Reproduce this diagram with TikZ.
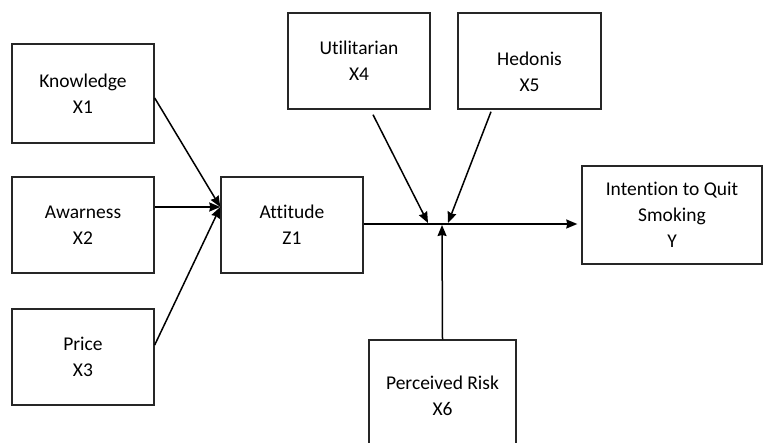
\documentclass[tikz,border=0pt]{standalone}
\usepackage{fontspec}
\setmainfont[Ligatures={NoCommon}]{Carlito}
\usetikzlibrary{arrows.meta,calc}
\begin{document}
\begin{tikzpicture}[x=1pt,y=-1pt,
  box/.style={draw=black!85,line width=1.4pt,rectangle,inner sep=0pt,align=center,
    font=\fontsize{19.5}{26}\selectfont},
  txt/.style={align=center,inner sep=0pt,font=\fontsize{19.5}{26}\selectfont},
  conn/.style={line width=1.5pt,-{Stealth[length=11pt,width=9pt,inset=1pt]}}]
\clip (0,0) rectangle (765,443);
\fill[white] (0,0) rectangle (765,443);
\node[box,minimum width=142pt,minimum height=99pt] (k) at (83,93.5) {Knowledge\\X1};
\node[box,minimum width=142pt,minimum height=96pt] (aw) at (83,225) {Awarness\\X2};
\node[box,minimum width=142pt,minimum height=96pt] (pr) at (83,357) {Price\\X3};
\node[box,minimum width=142pt,minimum height=96pt] (att) at (292,225) {Attitude\\Z1};
\node[box,minimum width=142pt,minimum height=96pt] (ut) at (359,61) {Utilitarian\\X4};
\node[box,minimum width=143pt,minimum height=96pt] (hd) at (529.5,61) {};
\node[txt] (hdt) at (529.5,72) {Hedonis\\X5};
\node[box,minimum width=180pt,minimum height=98pt] (y) at (672,215) {Intention to Quit\\Smoking\\Y};
\node[box,minimum width=147pt,minimum height=120pt] (pk) at (442.5,400) {};
\node[txt] (pkt) at (442.5,396) {Perceived Risk\\X6};
\coordinate (attin) at ([yshift=18pt]att.west);
\coordinate (J) at (442,224);
\draw[conn] ([yshift=-4.5pt]k.east) -- (attin);
\draw[conn] ([yshift=18pt]aw.east) -- (attin);
\draw[conn] ([yshift=12pt]pr.east) -- (attin);
\draw[conn] ([yshift=1pt]att.east) -- ([xshift=-4pt,yshift=1pt]att.east -| y.west);
\draw[conn] ([xshift=14pt,yshift=-5pt]ut.south) -- ([xshift=-14pt,yshift=1pt]J);
\draw[conn] ([xshift=-38.5pt,yshift=-2pt]hd.south) -- ([xshift=6pt,yshift=1pt]J);
\draw[conn] (pk.north) -- ([yshift=-1pt]J);
\end{tikzpicture}
\end{document}
